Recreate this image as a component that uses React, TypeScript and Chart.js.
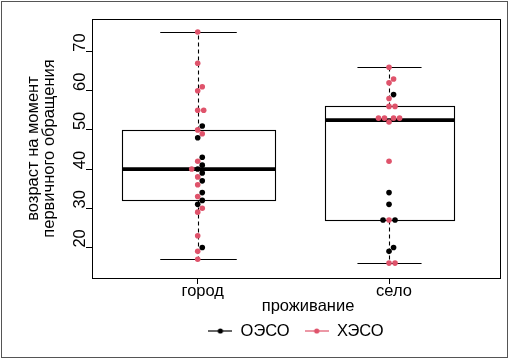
import React, { useEffect, useRef } from "react";
import { Chart, registerables } from "chart.js";

Chart.register(...registerables);

// ---------- data ----------
const categories = ["город", "село"];
const seriesNames = ["ОЭСО", "ХЭСО"];
const seriesColors = ["#000000", "#DF536B"];

// ages; group code 0 = ОЭСО, 1 = ХЭСО
const gorodAges = [75, 67, 61, 60, 55, 55, 51, 50, 49, 48, 43, 42, 41, 40, 40, 39, 38, 37, 36, 34, 33, 32, 31, 30, 29, 23, 20, 19, 17];
const gorodGroup = [1, 1, 1, 1, 1, 1, 0, 1, 1, 0, 0, 1, 0, 0, 1, 0, 1, 0, 1, 0, 1, 0, 0, 1, 1, 1, 0, 1, 1];
const seloAges = [66, 63, 62, 59, 58, 56, 56, 53, 53, 53, 53, 52, 42, 34, 31, 27, 27, 27, 20, 19, 16, 16];
const seloGroup = [1, 1, 1, 0, 1, 1, 1, 1, 1, 1, 1, 1, 1, 0, 0, 1, 0, 0, 0, 0, 1, 1];

const yTicks = [20, 30, 40, 50, 60, 70];
const yTitle = ["возраст на момент", "первичного обращения"];
const xTitle = "проживание";

// ---------- style / layout ----------
const X_MIN = 0.4475;
const X_MAX = 2.58;
const Y_MIN = 12.2;
const Y_MAX = 78.3;
const BOX_HALF = [0.4, 0.335];
const FONT_FAMILY = "'Liberation Sans', Arial, sans-serif";
const FS = 16.5;
const POINT_R = 2.8;
const SWARM_D = 6;
const X_TITLE_SHIFT = 12;

const groups = [
  { values: gorodAges, types: gorodGroup },
  { values: seloAges, types: seloGroup },
];

function fivenum(arr: number[]): number[] {
  const x = [...arr].sort((a, b) => a - b);
  const n = x.length;
  const n4 = Math.floor((n + 3) / 2) / 2;
  const d = [1, n4, (n + 1) / 2, n + 1 - n4, n];
  return d.map((v) => 0.5 * (x[Math.floor(v) - 1] + x[Math.ceil(v) - 1]));
}

function swarm(values: number[], ys: number[], d: number): number[] {
  const idx = values.map((_, i) => i).sort((a, b) => values[a] - values[b] || a - b);
  const xs = new Array(values.length).fill(0);
  const placed: number[] = [];
  for (const i of idx) {
    const cands = [0];
    for (const j of placed) {
      const dy = Math.abs(ys[i] - ys[j]);
      if (dy < d) {
        const dx = Math.sqrt(d * d - dy * dy);
        cands.push(xs[j] + dx, xs[j] - dx);
      }
    }
    const ok = cands.filter((c) =>
      placed.every((j) => Math.hypot(c - xs[j], ys[i] - ys[j]) >= d - 1e-6)
    );
    ok.sort((a, b) => Math.abs(a) - Math.abs(b) || b - a);
    xs[i] = ok.length ? ok[0] : 0;
    placed.push(i);
  }
  return xs;
}

function buildData(offsetsUnits: number[][] | null) {
  return seriesNames.map((name, k) => {
    const pts: { x: number; y: number }[] = [];
    groups.forEach((g, gi) => {
      g.values.forEach((v, i) => {
        if (g.types[i] === k) {
          const off = offsetsUnits ? offsetsUnits[gi][i] : 0;
          pts.push({ x: gi + 1 + off, y: v });
        }
      });
    });
    return pts;
  });
}

const boxPlugin = {
  id: "boxes",
  beforeDatasetsDraw(chart: any) {
    const { ctx } = chart;
    const xs = chart.scales.x;
    const ys = chart.scales.y;
    const line = (x1: number, y1: number, x2: number, y2: number) => {
      ctx.beginPath();
      ctx.moveTo(x1, y1);
      ctx.lineTo(x2, y2);
      ctx.stroke();
    };
    groups.forEach((g, gi) => {
      const [, q1, med, q3] = fivenum(g.values);
      const iqr = q3 - q1;
      const lo = Math.min(...g.values.filter((v) => v >= q1 - 1.5 * iqr));
      const hi = Math.max(...g.values.filter((v) => v <= q3 + 1.5 * iqr));
      const cxRaw = xs.getPixelForValue(gi + 1);
      const cx = Math.round(cxRaw) + 0.5;
      const half = xs.getPixelForValue(gi + 1 + BOX_HALF[gi]) - cxRaw;
      const py = (v: number) => Math.round(ys.getPixelForValue(v)) + 0.5;
      ctx.save();
      ctx.strokeStyle = "#000";
      ctx.lineWidth = 1.1;
      ctx.setLineDash([4, 3]);
      line(cx, py(q3), cx, py(hi));
      line(cx, py(q1), cx, py(lo));
      ctx.setLineDash([]);
      line(cx - half / 2, py(hi), cx + half / 2, py(hi));
      line(cx - half / 2, py(lo), cx + half / 2, py(lo));
      const l = Math.round(cx - half) + 0.5;
      const r = Math.round(cx + half) + 0.5;
      ctx.strokeRect(l, py(q3), r - l, py(q1) - py(q3));
      ctx.lineWidth = 3.8;
      ctx.lineCap = "butt";
      line(l, ys.getPixelForValue(med), r, ys.getPixelForValue(med));
      ctx.restore();
    });
  },
};

const framePlugin = {
  id: "frame",
  afterDraw(chart: any) {
    const { ctx, chartArea: a } = chart;
    ctx.save();
    ctx.strokeStyle = "#000";
    ctx.lineWidth = 1;
    ctx.strokeRect(Math.round(a.left) + 0.5, Math.round(a.top) + 0.5, Math.round(a.right - a.left), Math.round(a.bottom - a.top));
    ctx.strokeStyle = "#555";
    ctx.strokeRect(1.5, 1.5, chart.width - 3, chart.height - 3);
    ctx.restore();
  },
};

function makeIcon(color: string): HTMLCanvasElement {
  const c = document.createElement("canvas");
  c.width = 24;
  c.height = 8;
  const g = c.getContext("2d")!;
  g.strokeStyle = color;
  g.lineWidth = 1.2;
  g.beginPath();
  g.moveTo(0, 4);
  g.lineTo(24, 4);
  g.stroke();
  g.fillStyle = color;
  g.beginPath();
  g.arc(12, 4, 2.6, 0, Math.PI * 2);
  g.fill();
  return c;
}

export default function App() {
  const ref = useRef<HTMLCanvasElement | null>(null);
  useEffect(() => {
    if (!ref.current) return;
    const icons = seriesColors.map(makeIcon);
    const font = { family: FONT_FAMILY, size: FS };
    const data0 = buildData(null);
    const chart = new Chart(ref.current, {
      type: "scatter",
      data: {
        datasets: seriesNames.map((name, k) => ({
          label: name,
          data: data0[k],
          pointRadius: POINT_R,
          pointBorderWidth: 0,
          pointBackgroundColor: seriesColors[k],
          backgroundColor: seriesColors[k],
          borderColor: seriesColors[k],
        })),
      },
      options: {
        animation: false,
        responsive: false,
        events: [],
        layout: { padding: { left: 24, right: 9, top: 19, bottom: 9.75 } },
        plugins: {
          tooltip: { enabled: false },
          legend: {
            position: "bottom",
            fullSize: false,
            labels: {
              usePointStyle: true,
              pointStyleWidth: 24,
              padding: 15,
              font,
              color: "#000",
              generateLabels: (c: any) => {
                const items = (Chart as any).defaults.plugins.legend.labels.generateLabels(c);
                items.forEach((it: any, i: number) => {
                  it.pointStyle = icons[i];
                  it.fontColor = "#000";
                });
                return items;
              },
            },
          },
        },
        scales: {
          x: {
            type: "linear",
            min: X_MIN,
            max: X_MAX,
            afterBuildTicks: (s: any) => {
              s.ticks = categories.map((_, i) => ({ value: i + 1 }));
            },
            ticks: {
              callback: (v: any) => categories[Math.round(Number(v)) - 1] ?? "",
              autoSkip: false,
              maxRotation: 0,
              minRotation: 0,
              labelOffset: 5,
              font,
              color: "#000",
              padding: -2,
            },
            grid: { drawOnChartArea: false, drawTicks: true, tickLength: 6, color: "#000", lineWidth: 1 },
            border: { display: false },
            title: { display: true, text: xTitle, font, color: "#000", padding: { top: 0, bottom: -8.6 } },
            afterFit: (s: any) => {
              s.height = 29.75;
            },
            afterUpdate: (s: any) => {
              if (!s.__shifted) {
                const orig = s.drawTitle;
                s.drawTitle = function (...args: any[]) {
                  this.ctx.save();
                  this.ctx.translate(X_TITLE_SHIFT, 0);
                  orig.apply(this, args);
                  this.ctx.restore();
                };
                s.__shifted = true;
              }
            },
          },
          y: {
            type: "linear",
            min: Y_MIN,
            max: Y_MAX,
            afterBuildTicks: (s: any) => {
              s.ticks = yTicks.map((v) => ({ value: v }));
            },
            ticks: {
              minRotation: 90,
              maxRotation: 90,
              crossAlign: "center",
              padding: -4,
              labelOffset: -9,
              font,
              color: "#000",
              callback: (v: any) => String(v),
            },
            grid: { drawOnChartArea: false, drawTicks: true, tickLength: 6, color: "#000", lineWidth: 1 },
            border: { display: false },
            title: {
              display: true,
              text: yTitle,
              font: { family: FONT_FAMILY, size: FS, lineHeight: 1.0 },
              color: "#000",
              padding: { top: 0.75, bottom: 0 },
            },
            afterFit: (s: any) => {
              s.width = 68;
            },
          },
        },
      } as any,
      plugins: [boxPlugin, framePlugin],
    });

    // swarm offsets computed in pixel space through the chart's scales
    const xs: any = chart.scales.x;
    const ysc: any = chart.scales.y;
    const pxPerUnit = xs.getPixelForValue(2) - xs.getPixelForValue(1);
    const offsets = groups.map((g) => {
      const py = g.values.map((v) => ysc.getPixelForValue(v));
      return swarm(g.values, py, SWARM_D).map((dx) => dx / pxPerUnit);
    });
    const data1 = buildData(offsets);
    chart.data.datasets.forEach((ds: any, k: number) => {
      ds.data = data1[k];
    });
    chart.update();

    return () => chart.destroy();
  }, []);

  return (
    <div style={{ position: "fixed", left: 0, top: 0, width: 509, height: 359, background: "#fff" }}>
      <canvas ref={ref} width={509} height={359} style={{ display: "block" }} />
    </div>
  );
}
